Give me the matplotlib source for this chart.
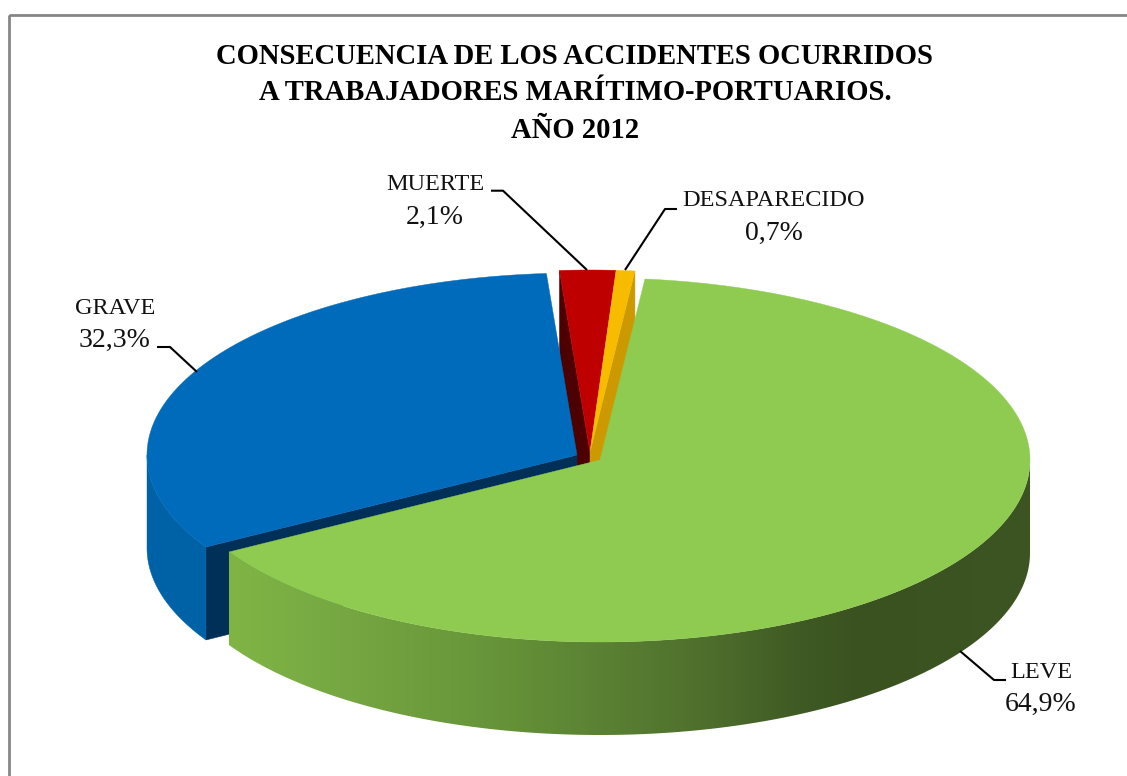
import numpy as np
import matplotlib
matplotlib.use("Agg")
import matplotlib.pyplot as plt
from matplotlib.patches import Polygon, Rectangle
from matplotlib.colors import to_rgb

title_lines = ["CONSECUENCIA DE LOS ACCIDENTES OCURRIDOS",
               "A TRABAJADORES MARÍTIMO-PORTUARIOS.",
               "AÑO 2012"]
categories = ["LEVE", "GRAVE", "MUERTE", "DESAPARECIDO"]
shares = [64.9, 32.3, 2.1, 0.7]
share_labels = ["64,9%", "32,3%", "2,1%", "0,7%"]

# layout (pixels)
W, H = 1127, 776
RX, RY, DEPTH = 430, 182, 93
START = 6.0
centers = [(600, 460), (577, 455), (590, 452), (590, 452)]
top_colors = ["#8ecb50", "#006bbb", "#bf0000", "#f7bb00"]
rim_colors = [None, "#0062a6", None, None]
cut_colors = [None, "#003057", "#4d0000", "#cc9a00"]
font = "Liberation Serif"

fig = plt.figure(figsize=(W / 100, H / 100), dpi=100, facecolor="white")
ax = fig.add_axes([0, 0, 1, 1])
ax.axis("off")

# chart frame, running off the right and bottom of the picture
ax.add_patch(Rectangle((9, 14.5), W, H, fc="none", ec="#868686", lw=2, zorder=0))


def rim(c, a0, a1, n=200):
    t = np.radians(np.linspace(a0, a1, n))
    return np.column_stack([c[0] + RX * np.sin(t), c[1] - RY * np.cos(t)])


edges = START + np.concatenate([[0], np.cumsum(shares)]) * 3.6
spans = list(zip(edges[:-1], edges[1:]))


def top(i, z):
    c = centers[i]
    pts = np.vstack([[c], rim(c, *spans[i])])
    ax.add_patch(Polygon(pts, closed=True, fc=top_colors[i], ec=top_colors[i], lw=0.3, zorder=z))


def cut_face(i, angle, z):
    c = centers[i]
    p = rim(c, angle, angle, 1)[0]
    pts = [c, p, (p[0], p[1] + DEPTH), (c[0], c[1] + DEPTH)]
    ax.add_patch(Polygon(pts, closed=True, fc=cut_colors[i], ec=cut_colors[i], lw=0.3, zorder=z))


# small back slices
cut_face(2, spans[2][0], 2)
cut_face(3, spans[3][1], 2)
top(2, 3)
top(3, 3)

# grave slice
cut_face(1, spans[1][0], 4)
c = centers[1]
arc = rim(c, spans[1][0], 270, 60)
ax.add_patch(Polygon(np.vstack([arc, arc[::-1] + [0, DEPTH]]), closed=True,
                     fc=rim_colors[1], ec=rim_colors[1], lw=0.3, zorder=4))
top(1, 5)

# leve slice: rim shaded along its width
c = centers[0]
stops_x = [227, 320, 500, 700, 800, 860, 1030]
stops_c = ["#80b545", "#78aa43", "#669339", "#4f702d", "#3f5a24", "#3a5220", "#3c5522"]
stops_rgb = np.array([to_rgb(s) for s in stops_c])
arc = rim(c, 90, spans[0][1], 360)
outline = Polygon(np.vstack([arc, arc[::-1] + [0, DEPTH]]), closed=True, transform=ax.transData,
                  fc="none", ec="none")
ax.add_patch(outline)
grad_x = np.arange(227, 1031) + 0.5
grad = np.stack([np.interp(grad_x, stops_x, stops_rgb[:, k]) for k in range(3)], axis=-1)[None, :, :]
img = ax.imshow(grad, extent=(227, 1031, 760, 450), aspect="auto", zorder=6, interpolation="bilinear")
img.set_clip_path(outline)
top(0, 7)

# leader lines
leaders = [[(960, 651), (994, 680), (1006, 680)],
           [(197, 372), (170, 347), (157, 347)],
           [(587, 270), (503, 190.7), (491, 190.7)],
           [(625, 270), (665, 209), (677, 209)]]
for pts in leaders:
    xs, ys = zip(*pts)
    ax.plot(xs, ys, color="black", lw=1.5, zorder=8, solid_capstyle="butt")

# labels
name_pos = [(1041, 673), (115, 308), (435, 184), (774, 200)]
value_pos = [(1041, 704), (115, 340), (435, 217), (774, 233)]
for name, val, np_, vp in zip(categories, share_labels, name_pos, value_pos):
    ax.text(*np_, name, family=font, fontsize=17.5, ha="center", va="center", color="#111111", zorder=9)
    ax.text(*vp, val, family=font, fontsize=20, ha="center", va="center", color="#111111", zorder=9)

# title
for line, y in zip(title_lines, [56, 92, 130]):
    ax.text(575, y, line, family=font, fontsize=20.6, fontweight="bold", ha="center", va="center",
            color="black", zorder=9)

ax.set_xlim(0, W)
ax.set_ylim(H, 0)
fig.savefig("out.png", dpi=100, facecolor="white")
